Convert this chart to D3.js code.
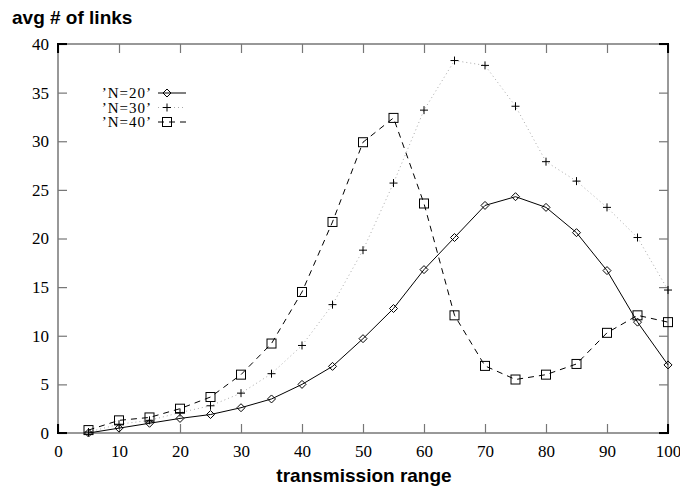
<!DOCTYPE html>
<html><head><meta charset="utf-8">
<script src="https://cdn.jsdelivr.net/npm/d3@7"></script>
<style>body{margin:0;background:#fff}</style>
</head><body>
<svg id="c" width="680" height="489"></svg>
<script>
const ranges = [5,10,15,20,25,30,35,40,45,50,55,60,65,70,75,80,85,90,95,100];
const n20 = [0.0,0.5,1.0,1.5,1.9,2.6,3.5,5.0,6.85,9.7,12.8,16.8,20.1,23.4,24.3,23.2,20.6,16.7,11.4,7.0];
const n30 = [0.1,0.9,1.3,2.1,2.8,4.1,6.1,9.0,13.2,18.8,25.7,33.2,38.3,37.8,33.6,27.9,25.9,23.2,20.1,14.7];
const n40 = [0.3,1.3,1.6,2.5,3.7,6.0,9.2,14.5,21.7,29.9,32.4,23.6,12.1,6.9,5.5,6.0,7.1,10.3,12.1,11.4];
const seriesNames = ["’N=20’","’N=30’","’N=40’"];
const xTicks = [0,10,20,30,40,50,60,70,80,90,100];
const yTicks = [0,5,10,15,20,25,30,35,40];

const svg = d3.select("#c");
const L=58, R=668, T=44, B=433;
const x = d3.scaleLinear().domain([0,100]).range([L,R]);
const y = d3.scaleLinear().domain([0,40]).range([B,T]);
const serif = "'Liberation Serif', serif";
const sans = "'Liberation Sans', Arial, sans-serif";
const tickLen = 9;
const axisCol = "#777";

// titles
svg.append("text").attr("x",12).attr("y",24).attr("font-family",sans).attr("font-weight","bold")
  .attr("font-size",19).text("avg # of links");
svg.append("text").attr("x",364).attr("y",482).attr("text-anchor","middle").attr("font-family",sans)
  .attr("font-weight","bold").attr("font-size",19).text("transmission range");

// axes with inward ticks on all sides
const gB = svg.append("g").attr("transform",`translate(0,${B})`)
  .call(d3.axisBottom(x).tickValues(xTicks).tickSize(-tickLen).tickPadding(12).tickFormat(d3.format("d")));
const gT = svg.append("g").attr("transform",`translate(0,${T})`)
  .call(d3.axisTop(x).tickValues(xTicks).tickSize(-tickLen).tickFormat(""));
const gL = svg.append("g").attr("transform",`translate(${L},0)`)
  .call(d3.axisLeft(y).tickValues(yTicks).tickSize(-tickLen).tickPadding(9).tickFormat(d3.format("d")));
const gR = svg.append("g").attr("transform",`translate(${R},0)`)
  .call(d3.axisRight(y).tickValues(yTicks).tickSize(-tickLen).tickFormat(""));
[gB,gT,gL,gR].forEach(g=>{
  g.select(".domain").remove();
  g.selectAll(".tick line").attr("stroke",axisCol).attr("stroke-width",1.2);
  g.selectAll("text").attr("font-family",serif).attr("font-size",17).attr("fill","#000");
});
svg.append("rect").attr("x",L).attr("y",T).attr("width",R-L).attr("height",B-T)
  .attr("fill","none").attr("stroke",axisCol).attr("stroke-width",1.5);
// darker corners where end ticks overlap the frame
const corners = [[L,T,1,1],[R,T,-1,1],[L,B,1,-1],[R,B,-1,-1]];
corners.forEach(([cx,cy,sx,sy])=>{
  svg.append("path").attr("d",`M${cx+sx*tickLen},${cy}H${cx}V${cy+sy*tickLen}`)
    .attr("fill","none").attr("stroke","#000").attr("stroke-width",2);
});

const line = d3.line().x((d,i)=>x(ranges[i])).y(d=>y(d));
const styles = [
  {data:n20, stroke:"#000", dash:null, width:1, marker:"diamond"},
  {data:n30, stroke:"#aaa", dash:"1,3", width:1, marker:"plus"},
  {data:n40, stroke:"#000", dash:"6,5", width:1, marker:"square"}
];
function drawMarker(g, type, cx, cy){
  if(type==="diamond"){
    g.append("path").attr("d",`M${cx},${cy-4}L${cx+4},${cy}L${cx},${cy+4}L${cx-4},${cy}Z`)
      .attr("fill","none").attr("stroke","#000").attr("stroke-width",1);
  } else if(type==="plus"){
    g.append("path").attr("d",`M${cx-4},${cy}H${cx+4}M${cx},${cy-4}V${cy+4}`)
      .attr("stroke","#000").attr("stroke-width",1);
  } else {
    g.append("rect").attr("x",cx-4.5).attr("y",cy-4.5).attr("width",9).attr("height",9)
      .attr("fill","none").attr("stroke","#000").attr("stroke-width",1);
  }
}
styles.forEach(s=>{
  svg.append("path").datum(s.data).attr("d",line).attr("fill","none")
    .attr("stroke",s.stroke).attr("stroke-width",s.width).attr("stroke-dasharray",s.dash);
  const g = svg.append("g");
  s.data.forEach((v,i)=>drawMarker(g,s.marker,x(ranges[i]),y(v)));
});

// legend
const legY = [93,107.5,122];
seriesNames.forEach((name,i)=>{
  svg.append("text").attr("x",152).attr("y",legY[i]+5).attr("text-anchor","end")
    .attr("font-family",serif).attr("font-size",15).attr("letter-spacing",1).text(name);
  const s = styles[i];
  svg.append("line").attr("x1",158).attr("x2",186).attr("y1",legY[i]).attr("y2",legY[i])
    .attr("stroke",s.stroke).attr("stroke-width",s.width).attr("stroke-dasharray",s.dash);
  drawMarker(svg.append("g"), s.marker, 167, legY[i]);
});
</script>
</body></html>
